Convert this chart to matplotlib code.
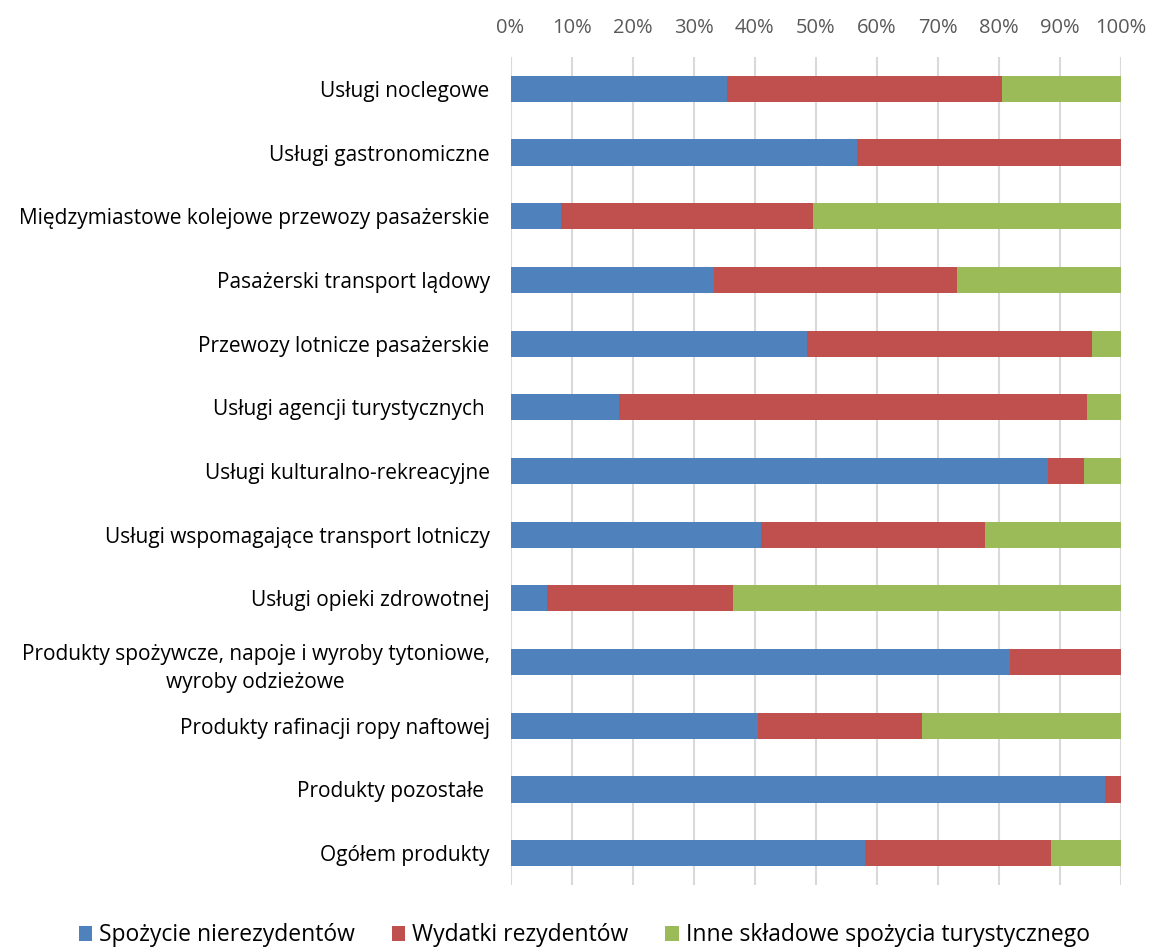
import matplotlib.pyplot as plt
import numpy as np

plt.rcParams['font.family'] = ['Open Sans', 'DejaVu Sans']

kategorie = [
    'Usługi noclegowe',
    'Usługi gastronomiczne',
    'Międzymiastowe kolejowe przewozy pasażerskie',
    'Pasażerski transport lądowy',
    'Przewozy lotnicze pasażerskie',
    'Usługi agencji turystycznych ',
    'Usługi kulturalno-rekreacyjne',
    'Usługi wspomagające transport lotniczy',
    'Usługi opieki zdrowotnej',
    'Produkty spożywcze, napoje i wyroby tytoniowe,\nwyroby odzieżowe',
    'Produkty rafinacji ropy naftowej',
    'Produkty pozostałe ',
    'Ogółem produkty',
]

# udziały w %
nierezydenci = [35.5, 56.8, 8.3, 33.3, 48.6, 17.7, 88.0, 41.1, 5.9, 81.8, 40.6, 97.4, 58.0]
rezydenci = [45.0, 43.2, 41.3, 39.8, 46.6, 76.8, 5.9, 36.6, 30.6, 18.2, 26.8, 2.6, 30.5]
inne = [19.5, 0.0, 50.4, 26.9, 4.8, 5.5, 6.1, 22.3, 63.5, 0.0, 32.6, 0.0, 11.5]

serie = ['Spożycie nierezydentów', 'Wydatki rezydentów', 'Inne składowe spożycia turystycznego']
kolory = ['#4F81BD', '#C0504D', '#9BBB59']

fig = plt.figure(figsize=(11.5, 9.49), dpi=100)
ax = fig.add_axes([510.5/1150, 1 - 885/949, (1121 - 510.5)/1150, (885 - 57)/949])

y = np.arange(len(kategorie))
left = np.zeros(len(kategorie))
for vals, name, c in zip([nierezydenci, rezydenci, inne], serie, kolory):
    vals = np.array(vals)
    ax.barh(y, vals, left=left, height=0.41, color=c, label=name, zorder=3)
    left += vals

ax.set_xlim(0, 100)
ax.set_ylim(len(kategorie) - 0.5, -0.5)
ax.set_xticks(np.arange(0, 101, 10))
ax.set_xticklabels([f'{v}%' for v in range(0, 101, 10)])
ax.xaxis.tick_top()
ax.tick_params(axis='x', length=0, pad=14, labelsize=14.5, labelcolor='#595959')
ax.set_yticks(y)
ax.set_yticklabels(kategorie, fontsize=15, linespacing=1.45)
ax.tick_params(axis='y', length=0, pad=15)
for lab in ax.get_yticklabels():
    lab.set_multialignment('center')
ax.grid(axis='x', color='#d9d9d9', linewidth=1.5, zorder=0)
for s in ax.spines.values():
    s.set_visible(False)

fig.legend(loc='lower center', bbox_to_anchor=(0.508, -0.02), ncol=3, frameon=False,
           fontsize=16.5, handlelength=0.6, handleheight=0.6, handletextpad=0.3,
           columnspacing=1.6)

fig.savefig('out.png', dpi=100)
